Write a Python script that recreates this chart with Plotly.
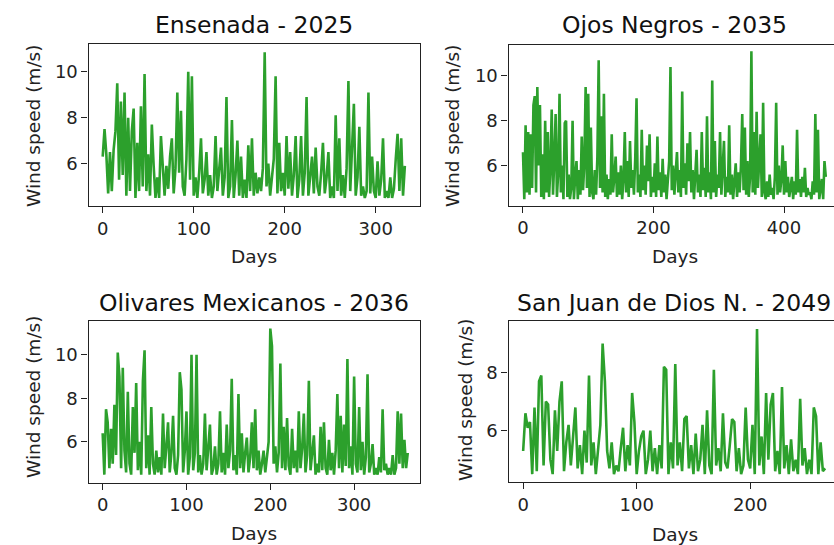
import plotly.graph_objects as go

W, H = 834, 545
STEP = 2  # one value every 2 days

titles = ["Ensenada - 2025", "Ojos Negros - 2035", "Olivares Mexicanos - 2036", "San Juan de Dios N. - 2049"]

ensenada = [
    6.3, 7.5, 6.4, 4.7, 6.5, 4.8, 6.6, 7.4, 9.5, 5.3, 8.7, 5.5, 9.1, 4.6, 8.0, 4.8, 7.4, 8.4, 4.5, 6.9,
    4.8, 8.5, 5.0, 9.9, 4.8, 6.4, 4.6, 7.7, 5.9, 4.5, 5.4, 4.5, 7.2, 5.6, 4.6, 5.9, 4.9, 6.3, 7.1, 4.7,
    5.8, 9.1, 5.6, 8.3, 5.0, 4.6, 6.2, 10.0, 5.3, 9.8, 4.6, 5.4, 4.5, 5.6, 7.1, 4.7, 5.3, 6.5, 4.6, 5.5,
    4.5, 5.0, 7.2, 4.8, 5.8, 6.7, 4.6, 5.4, 8.9, 4.5, 5.0, 7.9, 4.5, 5.5, 7.0, 4.6, 6.3, 4.5, 5.3, 4.5,
    6.8, 4.8, 7.1, 4.6, 5.6, 4.7, 5.4, 4.8, 5.8, 10.85, 5.0, 6.0, 4.6, 5.5, 6.2, 9.8, 4.7, 6.9, 4.8, 5.6,
    4.6, 7.2, 4.9, 6.5, 4.6, 5.5, 7.2, 4.5, 5.3, 7.2, 4.6, 5.6, 8.9, 4.6, 5.5, 6.3, 4.7, 6.7, 5.0, 4.6,
    5.6, 6.9, 4.7, 5.4, 6.5, 4.5, 5.0, 4.5, 8.1, 4.8, 7.1, 4.6, 5.5, 4.5, 5.8, 9.6, 4.8, 6.9, 8.6, 4.6,
    5.4, 7.6, 4.6, 5.0, 4.5, 4.8, 9.1, 4.7, 6.3, 4.8, 4.5, 6.1, 4.6, 5.3, 7.1, 4.5, 4.8, 4.5, 5.4, 4.5,
    4.9, 6.2, 7.3, 4.8, 7.1, 4.6, 5.9,
]

ojos_negros = [
    6.6, 4.5, 7.8, 4.8, 7.5, 4.7, 7.4, 5.0, 8.7, 9.1, 4.8, 9.5, 6.0, 8.7, 4.6, 6.5, 4.5, 8.0, 4.8, 7.5,
    4.6, 5.9, 8.5, 4.7, 6.3, 8.3, 4.6, 5.7, 9.2, 4.8, 6.0, 4.5, 7.9, 8.0, 4.6, 5.6, 4.5, 5.0, 8.0, 4.5,
    5.5, 6.2, 4.5, 5.8, 4.7, 7.3, 4.9, 6.1, 9.5, 5.0, 9.2, 4.6, 7.7, 4.8, 4.5, 5.8, 4.7, 6.4, 10.7, 5.0,
    8.2, 4.8, 9.2, 4.6, 5.6, 4.5, 5.4, 4.7, 7.4, 4.8, 5.5, 6.4, 4.6, 5.7, 4.7, 6.0, 4.5, 5.4, 7.5, 4.8,
    6.2, 4.6, 7.1, 5.0, 5.8, 4.7, 6.3, 9.0, 4.8, 5.6, 4.6, 7.6, 4.9, 6.0, 4.7, 6.9, 5.3, 7.4, 4.6, 5.5,
    4.8, 6.1, 4.6, 7.3, 4.9, 5.7, 4.6, 6.3, 4.8, 5.6, 4.5, 5.3, 6.2, 10.4, 4.9, 6.0, 4.7, 5.7, 6.6, 4.8,
    5.8, 4.6, 9.3, 5.0, 6.1, 4.7, 7.0, 5.3, 7.5, 4.8, 5.8, 4.5, 5.5, 6.7, 4.8, 5.6, 4.6, 7.5, 4.9, 5.9,
    4.6, 8.2, 4.8, 5.7, 4.5, 9.8, 4.8, 7.1, 4.6, 5.6, 5.0, 7.5, 4.7, 5.8, 7.1, 4.6, 5.5, 4.8, 7.8, 4.7,
    5.6, 4.5, 5.4, 6.1, 4.6, 5.7, 4.8, 6.0, 8.3, 4.9, 7.7, 4.7, 6.2, 4.6, 5.5, 11.1, 4.8, 7.5, 4.7, 8.4,
    5.0, 6.0, 7.4, 4.6, 8.8, 4.8, 4.5, 5.3, 4.6, 5.6, 4.7, 5.0, 4.5, 5.5, 8.8, 4.7, 6.0, 4.8, 5.4, 6.9,
    4.7, 6.2, 4.8, 5.5, 4.6, 5.0, 5.5, 4.5, 5.3, 4.7, 7.6, 4.8, 5.4, 4.6, 5.5, 4.8, 5.9, 4.6, 5.0, 4.7,
    4.8, 4.5, 5.3, 4.7, 8.3, 4.8, 7.6, 4.5, 4.9, 5.4, 4.5, 6.2, 5.5,
]

olivares = [
    6.4, 4.5, 7.5, 6.9, 4.8, 6.6, 5.0, 7.7, 5.4, 10.1, 9.0, 4.8, 9.4, 5.6, 4.6, 8.3, 5.0, 4.5, 7.6, 5.5,
    8.7, 4.7, 6.0, 4.5, 8.8, 10.2, 4.8, 6.3, 4.5, 7.6, 5.0, 4.5, 5.6, 4.6, 5.3, 4.5, 7.3, 4.8, 5.8, 6.9,
    4.6, 5.5, 7.2, 4.8, 4.5, 5.4, 9.2, 8.4, 4.6, 5.6, 7.4, 4.5, 5.3, 10.0, 4.7, 5.5, 10.0, 4.6, 5.4, 4.5,
    5.0, 7.3, 4.7, 5.6, 6.8, 4.5, 4.8, 5.8, 4.5, 5.0, 7.4, 4.6, 5.5, 4.5, 6.8, 4.8, 5.6, 8.9, 4.7, 5.4,
    4.5, 8.2, 4.8, 6.4, 4.6, 5.5, 6.2, 4.6, 5.3, 6.9, 4.8, 7.5, 4.7, 5.6, 4.5, 5.0, 5.6, 4.6, 5.3, 6.0,
    11.2, 10.4, 5.0, 5.8, 4.6, 5.5, 9.6, 4.8, 6.7, 4.7, 7.1, 4.9, 4.5, 6.6, 4.8, 5.6, 4.6, 7.4, 4.8, 5.7,
    7.3, 4.6, 5.4, 8.8, 4.7, 5.5, 6.3, 4.5, 5.0, 4.6, 6.7, 4.7, 6.9, 4.8, 4.5, 6.1, 4.7, 5.5, 4.5, 5.6,
    8.2, 4.8, 7.2, 4.6, 6.8, 4.9, 9.8, 4.8, 5.8, 4.5, 9.0, 5.0, 4.6, 7.6, 4.7, 6.0, 4.5, 5.3, 9.1, 4.6,
    5.0, 5.9, 4.5, 4.8, 4.5, 5.3, 4.6, 7.5, 4.7, 5.0, 4.5, 4.8, 4.5, 5.4, 4.5, 4.8, 7.4, 5.0, 7.3, 4.8,
    6.1, 4.8, 5.5,
]

san_juan = [
    5.3, 6.6, 6.1, 6.3, 4.5, 6.8, 4.6, 7.7, 7.9, 4.8, 7.0, 6.9, 5.0, 4.5, 6.7, 5.3, 7.0, 7.7, 4.6, 5.6,
    6.2, 4.8, 5.8, 6.8, 4.7, 5.5, 4.5, 6.0, 4.9, 7.9, 4.8, 5.6, 4.5, 5.4, 6.2, 9.0, 7.7, 5.3, 4.7, 5.6,
    4.5, 4.8, 4.6, 5.4, 6.1, 4.6, 5.5, 4.8, 7.3, 6.3, 4.5, 5.3, 5.8, 6.0, 4.5, 5.0, 6.0, 4.6, 5.4, 4.5,
    5.5, 4.7, 8.2, 8.1, 4.5, 5.6, 4.7, 8.3, 4.8, 5.6, 4.6, 6.4, 6.5, 4.7, 5.5, 4.5, 5.9, 4.6, 5.0, 6.2,
    4.5, 6.7, 4.8, 4.5, 8.1, 4.8, 5.4, 4.6, 6.6, 4.9, 4.7, 5.5, 6.4, 6.3, 4.6, 5.4, 4.5, 4.8, 6.8, 5.0,
    4.7, 6.2, 4.5, 9.5, 4.8, 5.8, 4.5, 7.3, 5.0, 6.9, 7.3, 4.6, 5.3, 4.5, 7.5, 4.7, 5.5, 4.5, 5.7, 4.6,
    5.0, 4.5, 7.1, 4.8, 5.4, 4.5, 5.0, 4.5, 6.8, 6.5, 4.5, 5.6, 4.6, 4.7,
]

x_ticks = [[0, 100, 200, 300], [0, 200, 400], [0, 100, 200, 300], [0, 100, 200]]
y_ticks = [[6, 8, 10], [6, 8, 10], [6, 8, 10], [6, 8]]

series = [ensenada, ojos_negros, olivares, san_juan]

# panel geometry in pixels: left, right, top, bottom (right panels clipped by the page edge)
boxes = [(88.5, 419.5, 44, 206), (508.5, 834, 45, 205.7), (88.5, 420, 320.7, 482.5), (508.5, 834, 321.3, 482)]
x_ranges = [[-15.6, 348.1], [-22.2, 476.6], [-16.9, 378.6], [-12.9, 273.8]]
y_ranges = [[4.15, 11.21], [4.21, 11.38], [4.14, 11.56], [4.23, 9.77]]

GREEN = "#2ca02c"
FONT = "DejaVu Sans"
fig = go.Figure()
layout = dict(width=W, height=H, margin=dict(l=0, r=0, t=0, b=0),
              paper_bgcolor="white", plot_bgcolor="white", showlegend=False,
              font=dict(family=FONT, color="#222"))

for i, vals in enumerate(series):
    n = "" if i == 0 else str(i + 1)
    days = [STEP * k for k in range(len(vals))]
    fig.add_trace(go.Scatter(x=days, y=vals, mode="lines", line=dict(color=GREEN, width=2.6),
                             xaxis="x" + n, yaxis="y" + n, hoverinfo="skip"))
    l, r, t, b = boxes[i]
    right_col = i in (1, 3)
    layout["xaxis" + n] = dict(domain=[l / W, r / W], range=x_ranges[i], anchor="y" + n,
                               tickvals=x_ticks[i], ticks="outside", ticklen=6, tickwidth=1.2,
                               tickcolor="#222", showline=True, linecolor="#222", linewidth=1.2,
                               mirror=True, showgrid=False, zeroline=False,
                               tickfont=dict(size=18, family=FONT, color="#222"))
    layout["yaxis" + n] = dict(domain=[1 - b / H, 1 - t / H], range=y_ranges[i], anchor="x" + n,
                               tickvals=y_ticks[i], ticks="outside", ticklen=6, tickwidth=1.2,
                               tickcolor="#222", showline=True, linecolor="#222", linewidth=1.2,
                               mirror=not right_col, showgrid=False, zeroline=False,
                               tickfont=dict(size=18, family=FONT, color="#222"))

title_pos = [(254, 25), (674.7, 25), (254, 302.5), (674, 303.5)]
days_pos = [(254, 256), (675, 256), (254, 533), (675, 534)]
ylab_pos = [(33, 126), (452, 126), (33, 397), (465, 400)]

ann = []
for i in range(4):
    ann.append(dict(text=titles[i], x=title_pos[i][0] / W, y=1 - title_pos[i][1] / H, xref="paper", yref="paper",
                    showarrow=False, xanchor="center", yanchor="middle", font=dict(size=23.5, family=FONT, color="#111")))
    ann.append(dict(text="Days", x=days_pos[i][0] / W, y=1 - days_pos[i][1] / H, xref="paper", yref="paper",
                    showarrow=False, xanchor="center", yanchor="middle", font=dict(size=18.5, family=FONT, color="#222")))
    ann.append(dict(text="Wind speed (m/s)", x=ylab_pos[i][0] / W, y=1 - ylab_pos[i][1] / H, xref="paper", yref="paper",
                    showarrow=False, xanchor="center", yanchor="middle", textangle=-90,
                    font=dict(size=18.5, family=FONT, color="#222")))
layout["annotations"] = ann
fig.update_layout(**layout)
fig.write_html("out.html")
